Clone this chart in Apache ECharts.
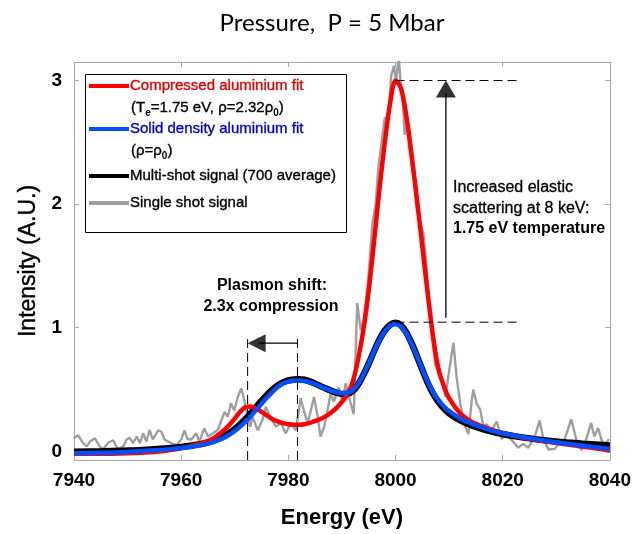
<!DOCTYPE html>
<html>
<head>
<meta charset="utf-8">
<script src="https://cdn.jsdelivr.net/npm/echarts@6/dist/echarts.min.js"></script>
<style>
  html, body { margin: 0; padding: 0; background: #fff; }
  #chart { width: 634px; height: 534px; }
</style>
</head>
<body>
<div id="chart"></div>
<script>
// ---- spectra: energy grid shared by the fits (eV) ----
const fitEnergy = [7940, 7945, 7950, 7955, 7958, 7960, 7962, 7964, 7966, 7968,
  7969, 7970, 7971, 7972, 7973, 7974, 7975, 7976, 7977, 7978, 7979, 7980, 7981, 7982,
  7983, 7984, 7985, 7986, 7987, 7988, 7989, 7990, 7991, 7992, 7993, 7994, 7995, 7996,
  7997, 7998, 7999, 8000, 8001, 8002, 8003, 8004, 8005, 8006, 8007, 8008, 8009, 8010,
  8012, 8014, 8016, 8018, 8020, 8023, 8026, 8029, 8032, 8035, 8038, 8040];

// compressed aluminium fit (Te = 1.75 eV, rho = 2.32 rho0)
const compressedFit = [-0.02, -0.02, -0.015, -0.005, 0.01, 0.025, 0.045, 0.068, 0.105, 0.17,
  0.215, 0.265, 0.32, 0.358, 0.362, 0.345, 0.32, 0.29, 0.262, 0.242, 0.228, 0.22, 0.216, 0.216,
  0.22, 0.23, 0.245, 0.262, 0.285, 0.315, 0.352, 0.4, 0.46, 0.56, 0.74, 0.98, 1.3, 1.7,
  2.12, 2.5, 2.82, 3.0, 2.94, 2.72, 2.4, 2.04, 1.66, 1.28, 0.93, 0.67, 0.53, 0.43,
  0.31, 0.245, 0.205, 0.175, 0.148, 0.118, 0.094, 0.075, 0.056, 0.038, 0.02, 0.005];

// solid density aluminium fit (rho = rho0)
const solidFit = [-0.015, -0.012, -0.005, 0.008, 0.018, 0.027, 0.038, 0.052, 0.075, 0.11,
  0.135, 0.165, 0.2, 0.24, 0.285, 0.335, 0.385, 0.435, 0.48, 0.52, 0.548, 0.564, 0.572, 0.573,
  0.568, 0.558, 0.543, 0.526, 0.508, 0.492, 0.478, 0.47, 0.472, 0.495, 0.545, 0.62, 0.71, 0.81,
  0.9, 0.97, 1.015, 1.03, 1.01, 0.955, 0.87, 0.77, 0.665, 0.565, 0.48, 0.415, 0.365, 0.325,
  0.268, 0.228, 0.196, 0.168, 0.146, 0.12, 0.098, 0.079, 0.062, 0.046, 0.03, 0.018];

// multi-shot signal (700 shot average)
const multiShot = [-0.004, 0.0, 0.006, 0.018, 0.028, 0.036, 0.047, 0.062, 0.086, 0.122,
  0.148, 0.18, 0.218, 0.262, 0.31, 0.36, 0.41, 0.456, 0.498, 0.533, 0.558, 0.574, 0.582, 0.584,
  0.579, 0.566, 0.548, 0.528, 0.508, 0.49, 0.474, 0.464, 0.466, 0.488, 0.54, 0.618, 0.71, 0.812,
  0.905, 0.978, 1.024, 1.04, 1.02, 0.962, 0.875, 0.77, 0.66, 0.555, 0.468, 0.4, 0.348, 0.308,
  0.253, 0.214, 0.184, 0.16, 0.14, 0.117, 0.099, 0.084, 0.072, 0.062, 0.054, 0.048];

// single shot signal
const singleEnergy = [7939.9, 7940.8, 7941.7, 7942.4, 7943.0, 7943.9, 7944.8, 7945.4, 7946.4, 7947.3,
  7948.2, 7949.2, 7949.8, 7950.4, 7951.0, 7951.7, 7952.3, 7952.9, 7953.5, 7954.1,
  7954.7, 7955.7, 7956.3, 7956.9, 7957.5, 7958.2, 7959.1, 7960.0, 7960.6, 7961.2,
  7961.9, 7962.8, 7963.4, 7964.3, 7965.0, 7965.9, 7966.8, 7967.5, 7968.1, 7968.7,
  7969.3, 7969.9, 7970.5, 7971.2, 7971.8, 7972.4, 7972.9, 7973.3, 7974.3, 7975.2,
  7975.8, 7976.7, 7977.7, 7978.6, 7979.5, 7980.5, 7981.4, 7982.3, 7982.9, 7983.6,
  7984.2, 7984.8, 7985.4, 7986.0, 7986.7, 7987.3, 7987.9, 7988.5, 7989.4, 7990.1,
  7990.7, 7991.3, 7992.2, 7992.85, 7993.5, 7994.1, 7994.9, 7995.7, 7996.3, 7996.8,
  7997.4, 7998.0, 7998.6, 7999.2, 7999.7, 8000.1, 8000.6, 8000.9, 8001.4, 8001.7,
  8002.1, 8002.6, 8003.4, 8004.0, 8004.6, 8005.2, 8005.7, 8006.2, 8006.8, 8007.4,
  8008.0, 8008.6, 8009.3, 8010.2, 8010.8, 8011.4, 8012.1, 8013.0, 8013.6, 8014.2,
  8014.5, 8015.2, 8015.8, 8016.4, 8017.0, 8017.9, 8018.9, 8019.8, 8020.7, 8021.7,
  8022.9, 8023.8, 8024.8, 8026.0, 8026.9, 8027.5, 8028.5, 8029.7, 8030.6, 8031.6,
  8032.8, 8033.7, 8034.7, 8035.6, 8036.5, 8037.1, 8037.8, 8038.4, 8039.0, 8039.8];
const singleShot = [0.106, 0.13, 0.066, 0.04, 0.08, 0.106, 0.04, 0.016, 0.07, 0.09,
  0.016, 0.04, 0.096, 0.11, 0.066, 0.12, 0.066, 0.146, 0.08, 0.173,
  0.096, 0.17, 0.16, 0.096, 0.08, 0.066, 0.05, 0.096, 0.17, 0.1,
  0.096, 0.146, 0.08, 0.186, 0.12, 0.146, 0.173, 0.25, 0.32, 0.28,
  0.39, 0.33, 0.43, 0.51, 0.41, 0.28, 0.2, 0.28, 0.17, 0.26,
  0.36, 0.27, 0.2, 0.23, 0.146, 0.23, 0.17, 0.43, 0.33, 0.23,
  0.33, 0.44, 0.3, 0.12, 0.2, 0.33, 0.47, 0.4, 0.52, 0.4,
  0.55, 0.44, 0.3, 1.2, 0.98, 1.07, 1.39, 1.85, 2.0, 2.3,
  2.5, 2.7, 2.69, 3.04, 3.12, 2.99, 3.2, 3.01, 2.8, 2.56,
  2.67, 2.45, 2.19, 1.95, 1.85, 1.76, 1.55, 1.25, 0.95, 0.7,
  0.65, 0.6, 0.44, 0.71, 0.88, 0.6, 0.38, 0.2, 0.14, 0.4,
  0.5, 0.38, 0.34, 0.2, 0.22, 0.17, 0.24, 0.1, 0.14, 0.09,
  0.03, 0.06, 0.03, 0.12, 0.25, 0.12, 0.015, 0.02, 0.07, 0.1,
  0.26, 0.1, 0.01, 0.1, 0.23, 0.12, 0.19, 0.1, 0.04, 0.1];

// ---- axes ----
const energyRange = [7940, 8040];
const energyStep = 20;
const intensityRange = [-0.07, 3.15];
const intensityTicks = [0, 1, 2, 3];

// ---- annotations (data units) ----
const plasmonPeaks = [7972.4, 7981.7];   // compressed / solid plasmon positions
const plasmonGuideTop = 0.946;
const plasmonArrowLevel = 0.875;
const elasticPeak = 8000;
const elasticLevels = [3.0, 1.045];      // compressed / solid elastic peak heights
const elasticGuideEnd = 8023.5;
const elasticArrowEnergy = 8009.4;
const elasticArrowBase = 1.08;

const zip = (xs, ys) => xs.map((x, i) => [x, ys[i]]);
const FONT = '"Liberation Sans", Arial, sans-serif';

const dashed = (pts) => ({
  type: 'line', data: pts, symbol: 'none', silent: true, z: 5,
  lineStyle: { color: '#000', width: 1, type: [9, 5] }
});
const solid = (pts) => ({
  type: 'line', data: pts, symbol: 'none', silent: true, z: 5,
  lineStyle: { color: '#000', width: 1.3 }
});

// legend / annotation text, slightly heavier than plain regular weight
const legendText = (x, y, text, fill) => ({
  type: 'text', x, y, z: 101, silent: true,
  style: { text, font: '15px ' + FONT, fill, stroke: fill, lineWidth: 0.35,
           verticalAlign: 'middle', textVerticalAlign: 'middle' }
});
const subRich = {
  n: { font: '15px ' + FONT, fill: '#000', stroke: '#000', lineWidth: 0.35, lineHeight: 20, verticalAlign: 'middle' },
  s: { font: 'bold 10px ' + FONT, fill: '#000', lineHeight: 10, verticalAlign: 'bottom' }
};

const chart = echarts.init(document.getElementById('chart'), null, { renderer: 'canvas' });

const axisGray = '#a8a8a8';
const tickLabel = { color: '#000', fontFamily: FONT, fontWeight: 'bold', fontSize: 19 };

chart.setOption({
  animation: false,
  backgroundColor: '#fff',
  grid: { left: 74, right: 21, top: 62, bottom: 70, containLabel: false },
  xAxis: [
    {
      type: 'value', min: energyRange[0], max: energyRange[1], interval: energyStep,
      position: 'bottom',
      axisLine: { onZero: false, lineStyle: { color: axisGray, width: 1 } },
      axisTick: { inside: true, length: 5, lineStyle: { color: axisGray } },
      axisLabel: Object.assign({ margin: 11, formatter: (v) => String(v) }, tickLabel),
      splitLine: { show: false },
      name: 'Energy (eV)', nameLocation: 'middle', nameGap: 47,
      nameTextStyle: { color: '#000', fontFamily: FONT, fontSize: 22, fontWeight: 'bold' }
    },
    {
      type: 'value', min: energyRange[0], max: energyRange[1], interval: energyStep,
      position: 'top',
      axisLine: { onZero: false, lineStyle: { color: axisGray, width: 1 } },
      axisTick: { inside: true, length: 5, lineStyle: { color: axisGray } },
      axisLabel: { show: false },
      splitLine: { show: false }
    }
  ],
  yAxis: [
    {
      type: 'value', min: intensityRange[0], max: intensityRange[1],
      position: 'left',
      axisLine: { show: true, onZero: false, lineStyle: { color: axisGray, width: 1 } },
      axisTick: { show: true, inside: true, length: 5, customValues: intensityTicks, lineStyle: { color: axisGray } },
      axisLabel: Object.assign({ margin: 12, customValues: intensityTicks }, tickLabel),
      splitLine: { show: false },
      name: 'Intensity (A.U.)', nameLocation: 'middle', nameGap: 34, nameRotate: 90,
      nameTextStyle: { color: '#000', fontFamily: FONT, fontSize: 23, fontWeight: 'normal',
                       textBorderColor: '#000', textBorderWidth: 0.4 }
    },
    {
      type: 'value', min: intensityRange[0], max: intensityRange[1],
      position: 'right',
      axisLine: { show: true, onZero: false, lineStyle: { color: axisGray, width: 1 } },
      axisTick: { show: true, inside: true, length: 5, customValues: intensityTicks, lineStyle: { color: axisGray } },
      axisLabel: { show: false },
      splitLine: { show: false }
    }
  ],
  series: [
    {
      name: 'Single shot signal', type: 'line', data: zip(singleEnergy, singleShot),
      symbol: 'none', smooth: false, z: 2, silent: true,
      lineStyle: { color: '#9e9e9e', width: 2.4 }
    },
    {
      name: 'Multi-shot signal (700 average)', type: 'line', data: zip(fitEnergy, multiShot),
      symbol: 'none', smooth: 0.3, z: 3, silent: true,
      lineStyle: { color: '#000', width: 6.5 }
    },
    {
      name: 'Compressed aluminium fit', type: 'line', data: zip(fitEnergy, compressedFit),
      symbol: 'none', smooth: 0.3, z: 3, silent: true,
      lineStyle: { color: '#ff0000', width: 4.5 }
    },
    {
      name: 'Solid density aluminium fit', type: 'line', data: zip(fitEnergy, solidFit),
      symbol: 'none', smooth: 0.3, z: 3, silent: true,
      lineStyle: { color: '#0050ff', width: 4.5 }
    },
    // plasmon shift guides and arrow
    dashed([[plasmonPeaks[0], intensityRange[0]], [plasmonPeaks[0], plasmonGuideTop]]),
    dashed([[plasmonPeaks[1], intensityRange[0]], [plasmonPeaks[1], plasmonGuideTop]]),
    solid([[plasmonPeaks[1], plasmonArrowLevel], [plasmonPeaks[0] + 2, plasmonArrowLevel]]),
    {
      type: 'scatter', data: [[plasmonPeaks[0], plasmonArrowLevel]], silent: true, z: 6,
      symbol: 'triangle', symbolSize: [18, 18], symbolRotate: 90, symbolOffset: ['50%', 0],
      itemStyle: { color: '#000' }
    },
    // elastic peak guides and arrow
    dashed([[elasticPeak, elasticLevels[0]], [elasticGuideEnd, elasticLevels[0]]]),
    dashed([[elasticPeak, elasticLevels[1]], [elasticGuideEnd, elasticLevels[1]]]),
    solid([[elasticArrowEnergy, elasticArrowBase], [elasticArrowEnergy, elasticLevels[0] - 0.1]]),
    {
      type: 'scatter', data: [[elasticArrowEnergy, elasticLevels[0]]], silent: true, z: 6,
      symbol: 'triangle', symbolSize: [20, 17], symbolOffset: [0, '50%'],
      itemStyle: { color: '#000' }
    }
  ],
  graphic: { elements: [
    {
      type: 'text', x: 332, y: 23, z: 100, silent: true,
      style: { text: 'Pressure,  P = 5 Mbar', font: '24px Lato, "Open Sans", sans-serif', fill: '#000',
               align: 'center', verticalAlign: 'middle', textAlign: 'center', textVerticalAlign: 'middle' }
    },
    // legend
    {
      type: 'rect', z: 100, silent: true,
      shape: { x: 85.5, y: 74.5, width: 261, height: 158 },
      style: { fill: '#fff', stroke: '#000', lineWidth: 1 }
    },
    { type: 'line', z: 101, silent: true, shape: { x1: 89, y1: 86, x2: 129, y2: 86 }, style: { stroke: '#ff0000', lineWidth: 4 } },
    { type: 'line', z: 101, silent: true, shape: { x1: 89, y1: 129, x2: 129, y2: 129 }, style: { stroke: '#0050ff', lineWidth: 4 } },
    { type: 'line', z: 101, silent: true, shape: { x1: 89, y1: 176, x2: 129, y2: 176 }, style: { stroke: '#000', lineWidth: 4 } },
    { type: 'line', z: 101, silent: true, shape: { x1: 89, y1: 203, x2: 129, y2: 203 }, style: { stroke: '#9e9e9e', lineWidth: 4 } },
    legendText(130, 86, 'Compressed aluminium fit', '#e00000'),
    {
      type: 'text', x: 131, y: 108, z: 101, silent: true,
      style: { text: '{n|(T}{s|e}{n|=1.75 eV, \u03c1=2.32\u03c1}{s|0}{n|)}',
               verticalAlign: 'middle', textVerticalAlign: 'middle', rich: subRich }
    },
    legendText(130, 129, 'Solid density aluminium fit', '#0000d0'),
    {
      type: 'text', x: 131, y: 151, z: 101, silent: true,
      style: { text: '{n|(\u03c1=\u03c1}{s|0}{n|)}',
               verticalAlign: 'middle', textVerticalAlign: 'middle', rich: subRich }
    },
    legendText(130, 176, 'Multi-shot signal (700 average)', '#000'),
    legendText(130, 203, 'Single shot signal', '#000'),
    // plasmon annotation
    {
      type: 'text', x: 272, y: 286, z: 100, silent: true,
      style: { text: 'Plasmon shift:', font: 'bold 16px ' + FONT, fill: '#000',
               align: 'center', verticalAlign: 'middle', textAlign: 'center', textVerticalAlign: 'middle' }
    },
    {
      type: 'text', x: 271, y: 307, z: 100, silent: true,
      style: { text: '2.3x compression', font: 'bold 16px ' + FONT, fill: '#000',
               align: 'center', verticalAlign: 'middle', textAlign: 'center', textVerticalAlign: 'middle' }
    },
    // elastic scattering annotation
    {
      type: 'text', x: 453, y: 188, z: 100, silent: true,
      style: { text: 'Increased elastic', font: '16px ' + FONT, fill: '#000', stroke: '#000', lineWidth: 0.3,
               verticalAlign: 'middle', textVerticalAlign: 'middle' }
    },
    {
      type: 'text', x: 453, y: 209, z: 100, silent: true,
      style: { text: 'scattering at 8 keV:', font: '16px ' + FONT, fill: '#000', stroke: '#000', lineWidth: 0.3,
               verticalAlign: 'middle', textVerticalAlign: 'middle' }
    },
    {
      type: 'text', x: 453, y: 229, z: 100, silent: true,
      style: { text: '1.75 eV temperature', font: 'bold 16px ' + FONT, fill: '#000', verticalAlign: 'middle', textVerticalAlign: 'middle' }
    }
  ] }
});
</script>
</body>
</html>
